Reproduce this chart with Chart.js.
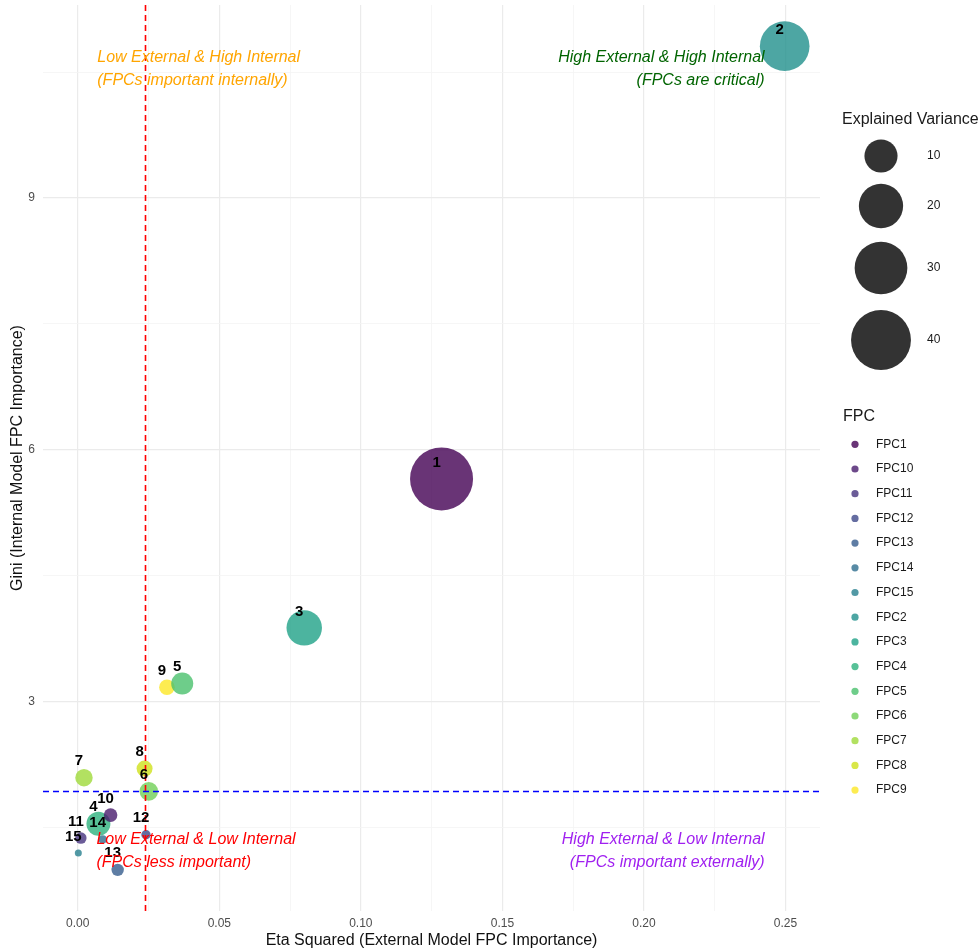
<!DOCTYPE html>
<html>
<head>
<meta charset="utf-8">
<title>FPC importance: external vs internal model</title>
<script src="https://cdn.jsdelivr.net/npm/chart.js@4.4.1/dist/chart.umd.min.js"></script>
<style>
  html, body { margin: 0; padding: 0; background: #ffffff; }
  #wrap { width: 980px; height: 952px; position: relative; }
</style>
</head>
<body>
<div id="wrap"><canvas id="chart" width="980" height="952"></canvas></div>
<script>
// ---- data -------------------------------------------------------------
const fpcNumbers = [1, 2, 3, 4, 5, 6, 7, 8, 9, 10, 11, 12, 13, 14, 15];
const fpcNames = fpcNumbers.map(n => 'FPC' + n);
// Eta squared from the external model
const etaSquared = [0.1285, 0.2497, 0.0800, 0.0073, 0.0369, 0.0251, 0.0022, 0.0236,
                    0.0315, 0.0116, 0.0011, 0.0241, 0.0141, 0.0088, 0.0002];
// Gini importance from the internal model
const giniImportance = [5.654, 10.81, 3.879, 1.545, 3.216, 1.931, 2.094, 2.202,
                        3.172, 1.648, 1.374, 1.414, 0.996, 1.358, 1.195];
// Explained variance (%) of each FPC
const explainedVariance = [44.8, 26.1, 11.8, 4.4, 3.5, 2.2, 1.84, 1.45,
                           1.35, 0.92, 0.58, 0.38, 0.71, 0.32, 0.30];
// Factor level order used by the colour legend
const legendOrder = ['FPC1', 'FPC10', 'FPC11', 'FPC12', 'FPC13', 'FPC14', 'FPC15',
                     'FPC2', 'FPC3', 'FPC4', 'FPC5', 'FPC6', 'FPC7', 'FPC8', 'FPC9'];
const viridis15 = ['#440154', '#481B6D', '#46337E', '#3F4889', '#365C8D', '#2E6E8E',
                   '#277F8E', '#21908C', '#1FA187', '#2DB27D', '#4AC16D', '#71CF57',
                   '#9FDA3A', '#CFE11C', '#FDE725'];
const sizeBreaks = [10, 20, 30, 40];
const xMajorTicks = [0, 0.05, 0.10, 0.15, 0.20, 0.25];
const yMajorTicks = [3, 6, 9];

// ---- helpers ----------------------------------------------------------
const FONT = '"Liberation Sans", Arial, Helvetica, sans-serif';
const POINT_ALPHA = 0.8;
const R_MIN = 3.5, R_MAX = 31.5;
const vMin = Math.min(...explainedVariance);
const vMax = Math.max(...explainedVariance);
// area-proportional size scale
const sizeOf = v => R_MIN + (R_MAX - R_MIN) * Math.sqrt(Math.max(0, v - vMin) / (vMax - vMin));

function hexToRgba(hex, a) {
  const n = parseInt(hex.slice(1), 16);
  return `rgba(${(n >> 16) & 255}, ${(n >> 8) & 255}, ${n & 255}, ${a})`;
}
const colorOf = name => viridis15[legendOrder.indexOf(name)];

function median(arr) {
  const s = [...arr].sort((a, b) => a - b);
  const m = Math.floor(s.length / 2);
  return s.length % 2 ? s[m] : (s[m - 1] + s[m]) / 2;
}
const etaThreshold = median(etaSquared);
const giniThreshold = median(giniImportance);

function expanded(arr) {
  const lo = Math.min(...arr), hi = Math.max(...arr), pad = (hi - lo) * 0.05;
  return [lo - pad, hi + pad];
}
const [xMin, xMax] = expanded(etaSquared);
const [yMin, yMax] = expanded(giniImportance);

// major + minor (halfway) break positions
function withMinor(majors) {
  const step = majors[1] - majors[0];
  const out = [];
  majors.forEach((m, i) => { out.push(m); if (i < majors.length - 1) out.push(m + step / 2); });
  out.unshift(majors[0] - step / 2);
  out.push(majors[majors.length - 1] + step / 2);
  return out;
}
const isMajor = (v, majors) => majors.some(m => Math.abs(m - v) < 1e-9);

// points drawn from lowest to highest Gini
const drawOrder = fpcNumbers.map((_, i) => i).sort((a, b) => giniImportance[a] - giniImportance[b]);
const bubbleData = drawOrder.map(i => ({
  x: etaSquared[i], y: giniImportance[i], r: sizeOf(explainedVariance[i]),
  name: fpcNames[i], label: String(fpcNumbers[i])
}));

// quadrant notes, anchored in data units
const quadrantNotes = [
  { lines: ['Low External & High Internal', '(FPCs important internally)'], x: 0.0069, y: 10.535, align: 'left', color: '#FFA500', gap: 23 },
  { lines: ['High External & High Internal', '(FPCs are critical)'], x: 0.2426, y: 10.535, align: 'right', color: '#006400', gap: 23 },
  { lines: ['Low External & Low Internal', '(FPCs less important)'], x: 0.0066, y: 1.222, align: 'left', color: '#FF0000', gap: 23 },
  { lines: ['High External & Low Internal', '(FPCs important externally)'], x: 0.2426, y: 1.222, align: 'right', color: '#A020F0', gap: 23 }
];

// ---- overlay plugin: reference lines, notes, labels, legends ----------
const overlay = {
  id: 'overlay',
  afterDatasetsDraw(chart) {
    const { ctx, chartArea: a, scales: { x, y } } = chart;
    ctx.save();
    ctx.beginPath();
    ctx.rect(a.left, a.top, a.right - a.left, a.bottom - a.top);
    ctx.clip();

    // median reference lines
    ctx.lineWidth = 1.6;
    ctx.setLineDash([6, 4]);
    const vx = Math.round(x.getPixelForValue(etaThreshold)) + 0.5;
    ctx.strokeStyle = '#FF0000';
    ctx.beginPath(); ctx.moveTo(vx, a.top); ctx.lineTo(vx, a.bottom); ctx.stroke();
    const hy = Math.round(y.getPixelForValue(giniThreshold)) + 0.5;
    ctx.strokeStyle = '#0000FF';
    ctx.beginPath(); ctx.moveTo(a.left, hy); ctx.lineTo(a.right, hy); ctx.stroke();
    ctx.setLineDash([]);

    // FPC number labels above each bubble
    ctx.fillStyle = '#000000';
    ctx.font = `bold 15px ${FONT}`;
    ctx.textAlign = 'center';
    ctx.textBaseline = 'middle';
    bubbleData.forEach(d => {
      ctx.fillText(d.label, x.getPixelForValue(d.x) - 5, y.getPixelForValue(d.y) - 16.5);
    });

    // quadrant notes
    ctx.font = `italic 16px ${FONT}`;
    quadrantNotes.forEach(n => {
      const px = x.getPixelForValue(n.x), py = y.getPixelForValue(n.y);
      ctx.fillStyle = n.color;
      ctx.textAlign = n.align;
      ctx.fillText(n.lines[0], px, py - n.gap / 2);
      ctx.fillText(n.lines[1], px, py + n.gap / 2);
    });
    ctx.restore();
  },
  afterDraw(chart) {
    const { ctx } = chart;
    ctx.save();
    ctx.textBaseline = 'middle';
    ctx.textAlign = 'left';

    // size legend
    ctx.fillStyle = '#1a1a1a';
    ctx.font = `16px ${FONT}`;
    ctx.fillText('Explained Variance', 842, 120);
    const sizeRows = [156, 206, 268, 340];
    sizeBreaks.forEach((b, i) => {
      ctx.fillStyle = hexToRgba('#000000', POINT_ALPHA);
      ctx.beginPath(); ctx.arc(881, sizeRows[i], sizeOf(b), 0, Math.PI * 2); ctx.fill();
      ctx.fillStyle = '#1a1a1a';
      ctx.font = `12px ${FONT}`;
      ctx.fillText(String(b), 927, sizeRows[i]);
    });

    // colour legend
    ctx.font = `16px ${FONT}`;
    ctx.fillText('FPC', 843, 417);
    ctx.font = `12px ${FONT}`;
    legendOrder.forEach((name, i) => {
      const ry = 444.3 + i * 24.7;
      ctx.fillStyle = hexToRgba(colorOf(name), POINT_ALPHA);
      ctx.beginPath(); ctx.arc(855, ry, 3.6, 0, Math.PI * 2); ctx.fill();
      ctx.fillStyle = '#1a1a1a';
      ctx.fillText(name, 876, ry);
    });
    ctx.restore();
  }
};

// ---- chart ------------------------------------------------------------
const gridColor = majors => ctx => (ctx.tick && isMajor(ctx.tick.value, majors)) ? '#EBEBEB' : '#F4F4F4';
const gridWidth = majors => ctx => (ctx.tick && isMajor(ctx.tick.value, majors)) ? 1.2 : 0.8;

new Chart(document.getElementById('chart'), {
  type: 'bubble',
  data: {
    datasets: [{
      data: bubbleData,
      backgroundColor: ctx => hexToRgba(colorOf(ctx.raw.name), POINT_ALPHA),
      borderWidth: 0,
      hoverBorderWidth: 0
    }]
  },
  options: {
    responsive: false,
    animation: false,
    devicePixelRatio: 1,
    layout: { autoPadding: false, padding: { top: 5, right: 160, left: 0, bottom: 0 } },
    plugins: { legend: { display: false }, tooltip: { enabled: false } },
    events: [],
    scales: {
      x: {
        type: 'linear',
        min: xMin, max: xMax,
        border: { display: false },
        grid: { color: gridColor(xMajorTicks), lineWidth: gridWidth(xMajorTicks), drawTicks: false },
        afterBuildTicks: s => { s.ticks = withMinor(xMajorTicks).filter(v => v >= xMin && v <= xMax).map(v => ({ value: v })); },
        afterFit: s => { s.height = 41; s.paddingLeft = 0; s.paddingRight = 0; },
        ticks: {
          autoSkip: false, maxRotation: 0, padding: 5,
          color: '#4D4D4D', font: { family: FONT, size: 12 },
          callback: v => isMajor(v, xMajorTicks) ? v.toFixed(2) : ''
        },
        title: {
          display: true, text: 'Eta Squared (External Model FPC Importance)',
          color: '#111111', font: { family: FONT, size: 16 }, padding: { top: 0, bottom: 2 }
        }
      },
      y: {
        type: 'linear',
        min: yMin, max: yMax,
        border: { display: false },
        grid: { color: gridColor(yMajorTicks), lineWidth: gridWidth(yMajorTicks), drawTicks: false },
        afterBuildTicks: s => { s.ticks = withMinor(yMajorTicks).filter(v => v >= yMin && v <= yMax).map(v => ({ value: v })); },
        afterFit: s => { s.width = 43; s.paddingTop = 0; s.paddingBottom = 0; },
        ticks: {
          autoSkip: false, padding: 8,
          color: '#4D4D4D', font: { family: FONT, size: 12 },
          callback: v => isMajor(v, yMajorTicks) ? String(v) : ''
        },
        title: {
          display: true, text: 'Gini (Internal Model FPC Importance)',
          color: '#111111', font: { family: FONT, size: 16 }, padding: { top: 8, bottom: 0 }
        }
      }
    }
  },
  plugins: [overlay]
});
</script>
</body>
</html>
